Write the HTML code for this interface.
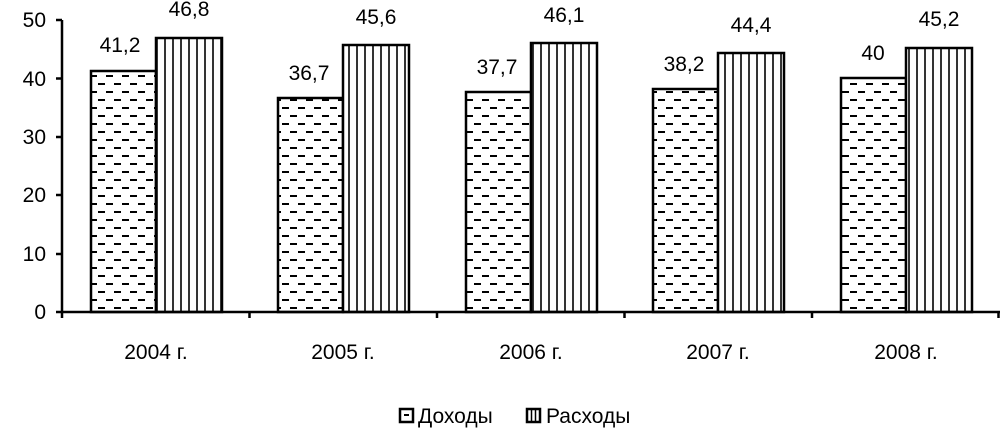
<!DOCTYPE html>
<html><head><meta charset="utf-8"><style>
body{margin:0;background:#fff;}
svg{display:block;font-family:"Liberation Sans","DejaVu Sans",sans-serif;}
</style></head><body>
<svg width="1000" height="446" viewBox="0 0 1000 446" xmlns="http://www.w3.org/2000/svg">
<defs>
<pattern id="dash" patternUnits="userSpaceOnUse" width="16" height="16" x="0" y="0">
<rect width="16" height="16" fill="#fff"/>
<line x1="2" y1="4" x2="9" y2="4" stroke="#000" stroke-width="2"/>
<line x1="10" y1="12" x2="17" y2="12" stroke="#000" stroke-width="2"/>
<line x1="-6" y1="12" x2="1" y2="12" stroke="#000" stroke-width="2"/>
</pattern>
<pattern id="vert" patternUnits="userSpaceOnUse" width="8" height="8" x="1" y="0">
<rect width="8" height="8" fill="#fff"/>
<line x1="4" y1="0" x2="4" y2="8" stroke="#000" stroke-width="1.6"/>
</pattern>
</defs>
<g font-size="21" fill="#000" text-anchor="end">
<text x="46" y="27">50</text>
<text x="46" y="86">40</text>
<text x="46" y="144">30</text>
<text x="46" y="202">20</text>
<text x="46" y="261">10</text>
<text x="46" y="319">0</text>
</g>
<g stroke="#000" stroke-width="2.5" stroke-linejoin="miter">
<rect x="91" y="71" width="65" height="241" fill="url(#dash)"/>
<rect x="156" y="38" width="66" height="274" fill="url(#vert)"/>
<rect x="278" y="98" width="65" height="214" fill="url(#dash)"/>
<rect x="343" y="45" width="66" height="267" fill="url(#vert)"/>
<rect x="466" y="92" width="65" height="220" fill="url(#dash)"/>
<rect x="531" y="43" width="66" height="269" fill="url(#vert)"/>
<rect x="653" y="89" width="65" height="223" fill="url(#dash)"/>
<rect x="718" y="53" width="66" height="259" fill="url(#vert)"/>
<rect x="841" y="78" width="65" height="234" fill="url(#dash)"/>
<rect x="906" y="48" width="66" height="264" fill="url(#vert)"/>
</g>
<g stroke="#000" stroke-width="2.5">
<line x1="62" y1="20" x2="62" y2="318"/>
<line x1="62" y1="312" x2="1000" y2="312"/>
<line x1="56" y1="20" x2="62" y2="20"/>
<line x1="56" y1="78.5" x2="62" y2="78.5"/>
<line x1="56" y1="137" x2="62" y2="137"/>
<line x1="56" y1="195" x2="62" y2="195"/>
<line x1="56" y1="254" x2="62" y2="254"/>
<line x1="56" y1="312" x2="62" y2="312"/>
<line x1="249.5" y1="312" x2="249.5" y2="318"/>
<line x1="437" y1="312" x2="437" y2="318"/>
<line x1="624.5" y1="312" x2="624.5" y2="318"/>
<line x1="812" y1="312" x2="812" y2="318"/>
<line x1="998.5" y1="312" x2="998.5" y2="318"/>
</g>
<g font-size="21" fill="#000" text-anchor="middle">
<text x="120" y="52">41,2</text>
<text x="189" y="16">46,8</text>
<text x="309" y="80">36,7</text>
<text x="376" y="24">45,6</text>
<text x="497" y="74">37,7</text>
<text x="564" y="22">46,1</text>
<text x="684" y="71">38,2</text>
<text x="751" y="32">44,4</text>
<text x="873" y="60">40</text>
<text x="939" y="26">45,2</text>
<text x="156" y="359">2004 г.</text>
<text x="343" y="359">2005 г.</text>
<text x="531" y="359">2006 г.</text>
<text x="718" y="359">2007 г.</text>
<text x="906" y="359">2008 г.</text>
</g>
<g stroke="#000" stroke-width="2.5" fill="#fff">
<rect x="400" y="409" width="13" height="13"/>
<rect x="527" y="409" width="13" height="13"/>
</g>
<line x1="404" y1="415" x2="409" y2="415" stroke="#000" stroke-width="2"/>
<line x1="531.5" y1="409" x2="531.5" y2="422" stroke="#000" stroke-width="1.5"/>
<line x1="535.5" y1="409" x2="535.5" y2="422" stroke="#000" stroke-width="1.5"/>
<g font-size="21" fill="#000">
<text x="418" y="423">Доходы</text>
<text x="546" y="423">Расходы</text>
</g>
</svg>
</body></html>
